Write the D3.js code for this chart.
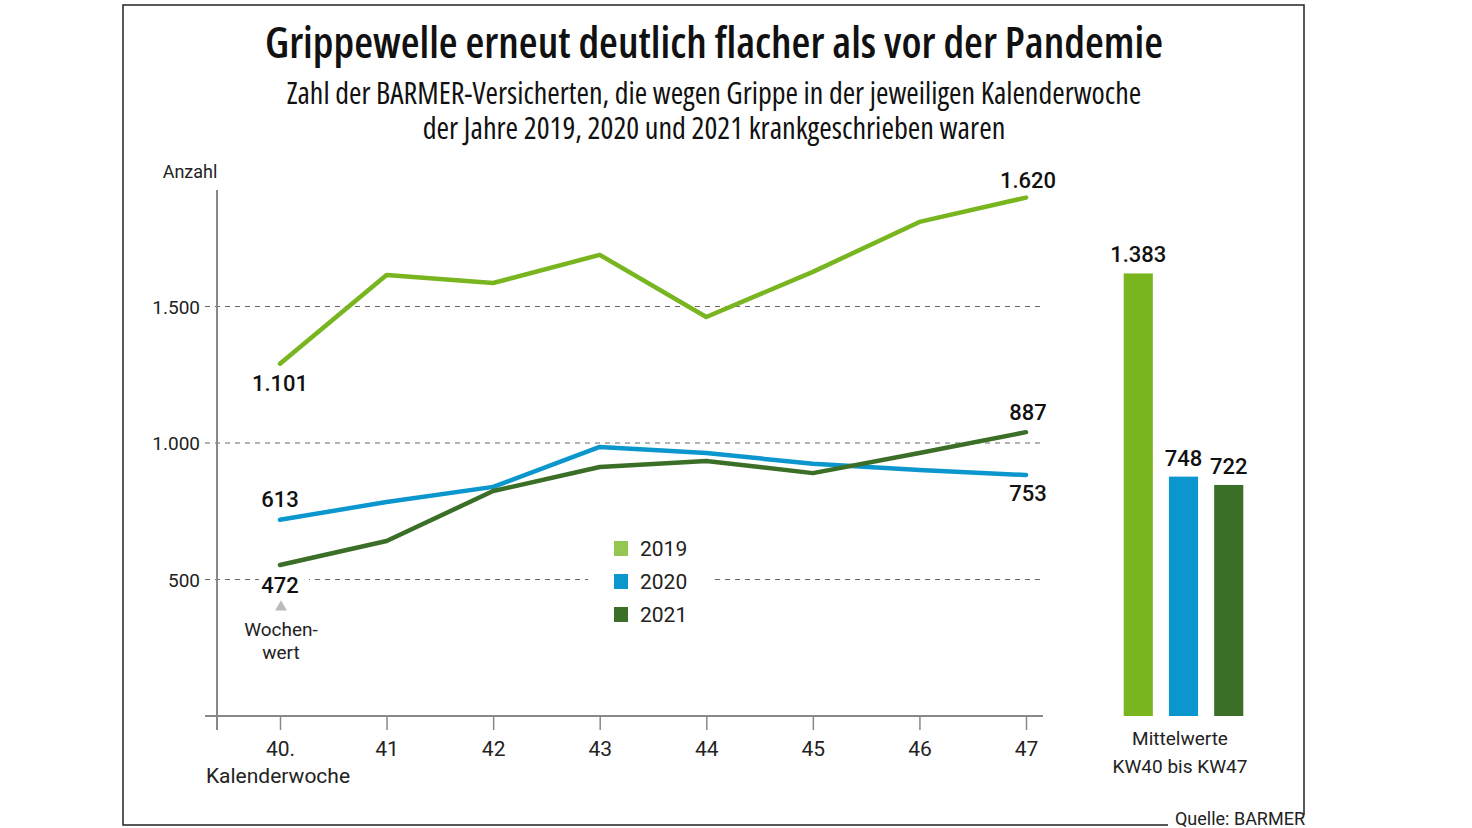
<!DOCTYPE html>
<html><head><meta charset="utf-8">
<script src="https://cdn.jsdelivr.net/npm/d3@7"></script>
<style>
html,body{margin:0;padding:0;background:#fff;}
svg{display:block;}
.cond{font-family:"Open Sans",sans-serif;font-stretch:87.5%;}
.sub{font-family:"Open Sans",sans-serif;font-stretch:87.5%;}
.body{font-family:Roboto,"Noto Sans",sans-serif;}
</style></head>
<body>
<script>
// ---- data ----
const weeks = [40, 41, 42, 43, 44, 45, 46, 47];
const weekLabels = ["40.", "41", "42", "43", "44", "45", "46", "47"];
const years = ["2019", "2020", "2021"];
const values2019 = [1101, 1378, 1353, 1441, 1247, 1388, 1544, 1620];
const values2020 = [613, 669, 716, 841, 822, 788, 769, 753];
const values2021 = [472, 547, 703, 778, 797, 759, 822, 887];
const means = [1383, 748, 722];
const yTickValues = [500, 1000, 1500];
const yTickLabels = ["500", "1.000", "1.500"];
const endLabels2019 = ["1.101", "1.620"];
const endLabels2020 = ["613", "753"];
const endLabels2021 = ["472", "887"];
const meanLabels = ["1.383", "748", "722"];

const colors = {"2019": "#78b51f", "2020": "#0b97cd", "2021": "#3b6f27"};
const legendColors = {"2019": "#95c651", "2020": "#0b97cd", "2021": "#3b6f27"};
const series = [
  {year: "2019", values: values2019, labels: endLabels2019},
  {year: "2020", values: values2020, labels: endLabels2020},
  {year: "2021", values: values2021, labels: endLabels2021}
];

const W = 1472, H = 828;
const svg = d3.select("body").append("svg").attr("width", W).attr("height", H);

// frame
svg.append("path").attr("d", "M1168,825 H123 V5 H1304 V815")
  .attr("fill", "none").attr("stroke", "#222").attr("stroke-width", 1.5);

function fit(sel, target) {
  const n = sel.node();
  const len = n.getComputedTextLength();
  const fs = parseFloat(sel.attr("font-size"));
  sel.attr("font-size", fs * target / len);
  return sel;
}

// title
fit(svg.append("text").attr("class", "cond").attr("x", 714).attr("y", 58)
  .attr("text-anchor", "middle").attr("font-size", 34).attr("font-weight", 600).attr("fill", "#111")
  .text("Grippewelle erneut deutlich flacher als vor der Pandemie"), 898);
// subtitle lines
fit(svg.append("text").attr("class", "sub").attr("x", 714).attr("y", 104)
  .attr("text-anchor", "middle").attr("font-size", 24).attr("font-weight", 500).attr("fill", "#111")
  .text("Zahl der BARMER-Versicherten, die wegen Grippe in der jeweiligen Kalenderwoche"), 855);
fit(svg.append("text").attr("class", "sub").attr("x", 714).attr("y", 139)
  .attr("text-anchor", "middle").attr("font-size", 24).attr("font-weight", 500).attr("fill", "#111")
  .text("der Jahre 2019, 2020 und 2021 krankgeschrieben waren"), 583);

// scales
const x = d3.scalePoint().domain(weeks).range([280, 1026]);
const yAxisScale = d3.scaleLinear().domain([0, 2000]).range([716, 170]);
const y = d3.scaleLinear().domain([0, 1700]).range([716, 172]);

// gridlines
const grid = svg.append("g");
grid.selectAll("line").data(yTickValues).join("line")
  .attr("x1", 205).attr("x2", 1043)
  .attr("y1", d => yAxisScale(d)).attr("y2", d => yAxisScale(d))
  .attr("stroke", "#666").attr("stroke-width", 1).attr("stroke-dasharray", "5,5");

// y tick labels
svg.append("g").selectAll("text").data(yTickValues).join("text")
  .attr("class", "body").attr("x", 200).attr("y", d => yAxisScale(d) + 7)
  .attr("text-anchor", "end").attr("font-size", 19).attr("fill", "#222")
  .text((d, i) => yTickLabels[i]);
svg.append("text").attr("class", "body").attr("x", 190).attr("y", 178)
  .attr("text-anchor", "middle").attr("font-size", 18).attr("fill", "#222").text("Anzahl");

// axes
svg.append("line").attr("x1", 217).attr("x2", 217).attr("y1", 190).attr("y2", 730)
  .attr("stroke", "#888").attr("stroke-width", 2);
const xAxis = d3.axisBottom(x).tickSize(14).tickFormat((d, i) => weekLabels[i]);
const gx = svg.append("g").attr("transform", "translate(0,716)").call(xAxis);
gx.select(".domain").remove();
gx.insert("line", ":first-child").attr("x1", 205).attr("x2", 1043).attr("y1", 0).attr("y2", 0)
  .attr("stroke", "#888").attr("stroke-width", 2);
gx.selectAll(".tick line").attr("stroke", "#888").attr("stroke-width", 1.5);
gx.selectAll(".tick text").attr("class", "body").attr("font-size", 21).attr("fill", "#222")
  .attr("y", 25).attr("dy", "0.71em").attr("font-family", null);
svg.append("text").attr("class", "body").attr("x", 278).attr("y", 783)
  .attr("text-anchor", "middle").attr("font-size", 21).attr("fill", "#222").text("Kalenderwoche");

// legend background + legend
const lg = svg.append("g");
lg.append("rect").attr("x", 588).attr("y", 530).attr("width", 124).attr("height", 100).attr("fill", "#fff");
const ly = d3.scalePoint().domain(years).range([548, 614]);
lg.selectAll("rect.sw").data(years).join("rect").attr("class", "sw")
  .attr("x", 614).attr("y", d => ly(d) - 7).attr("width", 14).attr("height", 15)
  .attr("fill", d => legendColors[d]);
lg.selectAll("text").data(years).join("text").attr("class", "body")
  .attr("x", 640).attr("y", d => ly(d) + 8).attr("font-size", 21).attr("fill", "#222").text(d => d);

// white behind 472 label
svg.append("rect").attr("x", 259).attr("y", 570).attr("width", 50).attr("height", 22).attr("fill", "#fff");

// lines
const line = d3.line().x((d, i) => x(weeks[i])).y(d => y(d));
svg.append("g").selectAll("path").data(series).join("path")
  .attr("d", d => line(d.values)).attr("fill", "none")
  .attr("stroke", d => colors[d.year]).attr("stroke-width", 4.5)
  .attr("stroke-linejoin", "round").attr("stroke-linecap", "round");

// end labels
const labelOffsets = {"2019": [27, -10], "2020": [-13, 26], "2021": [28, -12]};
const lbl = svg.append("g").attr("class", "body").attr("font-size", 22).attr("font-weight", 500).attr("fill", "#111")
  .attr("text-anchor", "middle");
series.forEach(s => {
  const off = labelOffsets[s.year];
  lbl.append("text").attr("x", x(weeks[0])).attr("y", y(s.values[0]) + off[0]).text(s.labels[0]);
  lbl.append("text").attr("x", x(weeks[7]) + 2).attr("y", y(s.values[7]) + off[1]).text(s.labels[1]);
});

// Wochenwert annotation
svg.append("path").attr("d", d3.symbol(d3.symbolTriangle, 60)())
  .attr("transform", "translate(281,607)").attr("fill", "#bbb");
svg.append("text").attr("class", "body").attr("x", 281).attr("y", 636).attr("text-anchor", "middle")
  .attr("font-size", 19).attr("fill", "#222").text("Wochen-");
svg.append("text").attr("class", "body").attr("x", 281).attr("y", 659).attr("text-anchor", "middle")
  .attr("font-size", 19).attr("fill", "#222").text("wert");

// mean bars
const xb = d3.scaleBand().domain(years).range([1116, 1251]).paddingInner(0.356).paddingOuter(0.17);
svg.append("g").selectAll("rect").data(means).join("rect")
  .attr("x", (d, i) => xb(years[i])).attr("width", xb.bandwidth())
  .attr("y", d => y(d)).attr("height", d => y(0) - y(d))
  .attr("fill", (d, i) => colors[years[i]]);
svg.append("g").attr("class", "body").attr("font-size", 22).attr("font-weight", 500).attr("fill", "#111")
  .attr("text-anchor", "middle")
  .selectAll("text").data(means).join("text")
  .attr("x", (d, i) => xb(years[i]) + xb.bandwidth() / 2).attr("y", d => y(d) - 11)
  .text((d, i) => meanLabels[i]);
svg.append("text").attr("class", "body").attr("x", 1180).attr("y", 745).attr("text-anchor", "middle")
  .attr("font-size", 19).attr("fill", "#222").text("Mittelwerte");
svg.append("text").attr("class", "body").attr("x", 1180).attr("y", 773).attr("text-anchor", "middle")
  .attr("font-size", 19).attr("fill", "#222").text("KW40 bis KW47");

// source
svg.append("text").attr("class", "body").attr("x", 1305).attr("y", 825).attr("text-anchor", "end")
  .attr("font-size", 18).attr("fill", "#222").text("Quelle: BARMER");
</script>
</body></html>
